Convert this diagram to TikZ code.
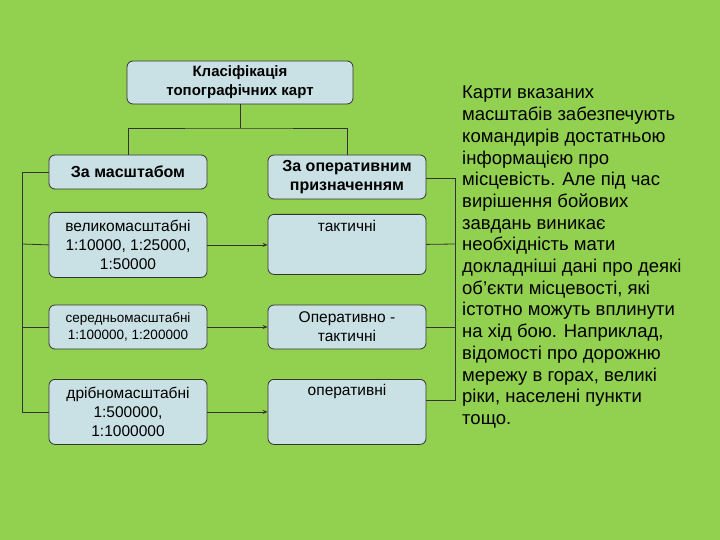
\documentclass[tikz,border=0pt]{standalone}
\usepackage{fontspec}
\setmainfont{Liberation Sans}
\usetikzlibrary{arrows.meta}
\definecolor{bg}{HTML}{92D050}
\definecolor{bx}{HTML}{C9E1E4}
\begin{document}
\begin{tikzpicture}[x=1pt,y=-1pt,
  box/.style={draw=black!80,fill=bx,rounded corners=6pt,line width=0.8pt,align=center,inner sep=1pt,font=\fontsize{15.5}{19}\selectfont},
  ln/.style={line width=0.8pt,black!80},
  ar/.style={ln,-{Stealth[length=5pt,width=4pt]}}]
\fill[bg] (0,0) rectangle (720,540);
\node[box,minimum width=226pt,minimum height=43pt,font=\bfseries\fontsize{15}{19}\selectfont] (top) at (240,82.5) {Класіфікація\\топографічних карт};
\node[box,minimum width=158pt,minimum height=34pt,font=\bfseries\fontsize{16}{19}\selectfont] (l0) at (128,172) {За масштабом};
\node[box,minimum width=158pt,minimum height=65pt,anchor=north] (l1) at (128,212) {великомасштабні\\1:10000, 1:25000,\\1:50000};
\node[box,minimum width=158pt,minimum height=44pt,font=\fontsize{13.5}{17}\selectfont] (l2) at (128,327) {середньомасштабні\\1:100000, 1:200000};
\node[box,minimum width=158pt,minimum height=44pt,font=\bfseries\fontsize{16}{19}\selectfont] (r0) at (347,177) {За оперативним\\призначенням};
\node[box,minimum width=158pt,minimum height=65pt,anchor=north] (l3) at (128,379) {дрібномасштабні\\1:500000,\\1:1000000};
\node[box,minimum width=158pt,minimum height=60pt,anchor=north,text depth=38pt] (r1) at (347,214) {тактичні};
\node[box,minimum width=158pt,minimum height=44pt] (r2) at (347,327) {Оперативно -\\тактичні};
\node[box,minimum width=158pt,minimum height=65pt,anchor=north,text depth=44pt] (r3) at (347,379) {оперативні};
\coordinate (t) at (240,128);
\draw[ln] (top.south) -- (t);
\draw[ln] (l0.north) |- (t) -| (r0.north);
\draw[ln] (l0.west) -- (22,172) |- (l3.west);
\draw[ln] (22,244) -- (l1.west);
\draw[ln] (22,327) -- (l2.west);
\draw[ar] (l1.east) -- (l1.east -| r1.west);
\draw[ar] (l2.east) -- (r2.west);
\draw[ar] (l3.east) -- (l3.east -| r3.west);
\draw[ln] (r0.east |- 0,178) -- (455,178) -- (455,400) -- (r3.east |- 0,400);
\draw[ln] (r1.east) -- (455,244);
\draw[ln] (r2.east) -- (455,327);
\node[anchor=north west,align=left,font=\fontsize{18.5}{21.7}\selectfont,inner sep=0] (txt) at (462,86) {Карти вказаних\\масштабів забезпечують\\командирів достатньою\\інформацією про\\місцевість. Але під час\\вирішення бойових\\завдань виникає\\необхідність мати\\докладніші дані про деякі\\об’єкти місцевості, які\\істотно можуть вплинути\\на хід бою. Наприклад,\\відомості про дорожню\\мережу в горах, великі\\ріки, населені пункти\\тощо.};
\end{tikzpicture}
\end{document}
